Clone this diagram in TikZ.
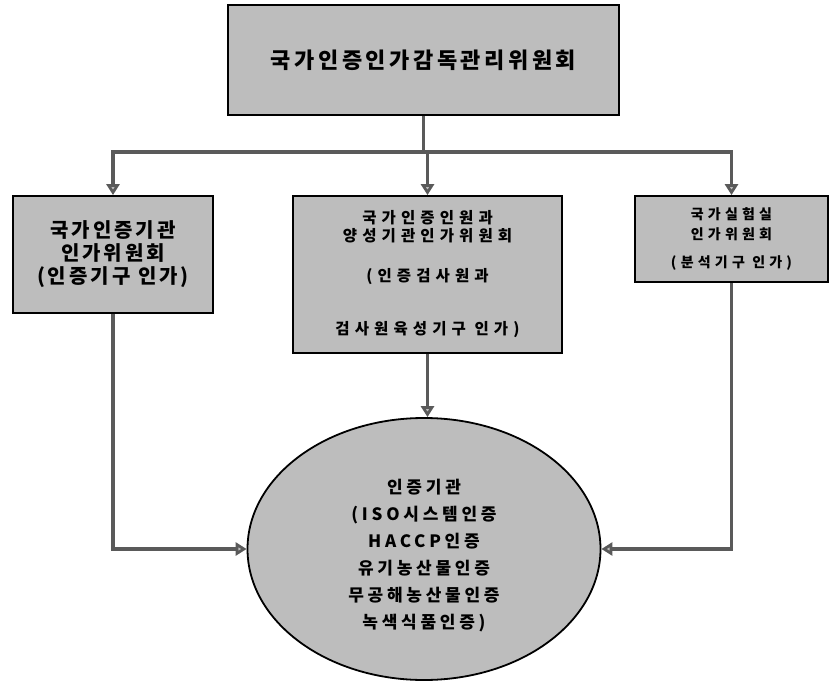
\documentclass[tikz,border=0pt]{standalone}
\usepackage{fontspec}
\newfontfamily\kr{Noto Sans CJK KR}
\usetikzlibrary{shapes.geometric,arrows.meta}
\definecolor{boxfill}{HTML}{BDBDBD}
\definecolor{linkcol}{HTML}{5A5A5A}
\begin{document}
\begin{tikzpicture}[x=1pt,y=-1pt,
  panel/.style={draw=black,line width=1.8pt,fill=boxfill,inner sep=0pt,align=center,font=\kr\bfseries},
  link/.style={draw=linkcol,line width=3.5pt},
  flow/.style={link,-{Triangle[width=13pt,length=11pt,fill=boxfill]}},
]
\useasboundingbox (0,0) rectangle (829,684);

% governing committee
\node[panel,minimum width=391pt,minimum height=110pt,
  font=\kr\bfseries\fontsize{22}{26}\selectfont\addfontfeature{LetterSpace=16}]
  (top) at (423.5,60) {국가인증인가감독관리위원회};

% three accreditation committees
\node[panel,minimum width=200pt,minimum height=117pt,
  font=\kr\bfseries\fontsize{20}{23}\selectfont\addfontfeature{LetterSpace=15}]
  (left) at (113,254.5) {국가인증기관\\인가위원회\\(인증기구 인가)};

\node[panel,minimum width=269pt,minimum height=157pt,
  font=\kr\bfseries\fontsize{15.5}{18}\selectfont\addfontfeature{LetterSpace=33}]
  (mid) at (427.5,274.5) {국가인증인원과\\양성기관인가위원회\\[22pt](인증검사원과\\[35pt]검사원육성기구 인가)};

\node[panel,minimum width=193pt,minimum height=86pt,
  font=\kr\bfseries\fontsize{14}{20}\selectfont\addfontfeature{LetterSpace=30}]
  (right) at (731.5,239) {국가실험실\\인가위원회\\[8pt](분석기구 인가)};

% certification bodies
\node[panel,ellipse,minimum width=353pt,minimum height=262pt] (cert) at (424,549) {};
\node[align=center,inner sep=0pt,
  font=\kr\bfseries\fontsize{17}{27}\selectfont\addfontfeature{LetterSpace=22}]
  (certtext) at (424,556) {인증기관\\(ISO시스템인증\\HACCP인증\\유기농산물인증\\무공해농산물인증\\녹색식품인증)};

% distribution bus
\coordinate (bus) at (top.south |- 0,152);
\coordinate (busL) at (left.north |- bus);
\coordinate (busR) at (right.north |- bus);
\draw[link] (top.south) -- (bus);
\draw[link,line cap=rect] (busL) -- (busR);
\draw[flow] (busL) -- (left.north);
\draw[flow] (mid.north |- bus) -- (mid.north);
\draw[flow] (busR) -- (right.north);

% links into the certification bodies
\draw[flow] (mid.south) -- (mid.south |- cert.north);
\draw[flow] (left.south) |- (cert.west);
\draw[flow] (right.south) |- (cert.east);
\end{tikzpicture}
\end{document}
